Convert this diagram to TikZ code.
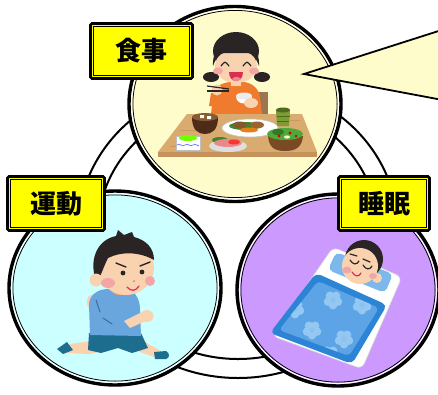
\documentclass[tikz,border=0pt]{standalone}
\usepackage{fontspec}
\newfontfamily\jp{Noto Sans CJK JP}
\usetikzlibrary{shapes.geometric,calc}

\definecolor{mealfill}{HTML}{FFFCCC}
\definecolor{movefill}{HTML}{CCFFFF}
\definecolor{sleepfill}{HTML}{CC99FF}
\definecolor{labelyellow}{HTML}{FFFF00}
\definecolor{skin}{HTML}{F9D2B0}
\definecolor{hair}{HTML}{2A2424}
\definecolor{cheek}{HTML}{F4A6A6}
\definecolor{mouthred}{HTML}{D8304E}
\definecolor{shirtorange}{HTML}{F07A2E}
\definecolor{chair}{HTML}{9C7650}
\definecolor{tabletop}{HTML}{D9AB6E}
\definecolor{tablefront}{HTML}{C4925A}
\definecolor{bowl}{HTML}{4E2A18}
\definecolor{soup}{HTML}{8A5A30}
\definecolor{teagreen}{HTML}{7E9C34}
\definecolor{teadark}{HTML}{4E6A1C}
\definecolor{basket}{HTML}{7A4A24}
\definecolor{leaf}{HTML}{4FA83A}
\definecolor{fishpink}{HTML}{E88A8A}
\definecolor{shirtblue}{HTML}{6AA6DE}
\definecolor{shorts}{HTML}{1D6E8E}
\definecolor{collar}{HTML}{F2A45C}
\definecolor{pillow}{HTML}{7CB8EC}
\definecolor{blanketdark}{HTML}{2C84D4}
\definecolor{blanket}{HTML}{5CA4E6}
\definecolor{petal}{HTML}{94C8F2}

\tikzset{
  ringline/.style={draw=black, line width=2},
  themecircle/.style={ellipse, draw=black, line width=3.4, inner sep=0pt, outer sep=0pt},
  labelbox/.style={draw=black, line width=2.8, fill=labelyellow, rounded corners=1.5pt,
    inner sep=0pt, outer sep=0pt, font=\jp\bfseries\fontsize{26pt}{26pt}\selectfont},
  innerframe/.style={draw=black, line width=0.9},
  facestroke/.style={line width=1.2, line cap=round},
}

% white rim and thin black rim just inside a theme circle
\newcommand\innerrims[3]{%
  \draw[white, line width=1.2] (#1.center) ellipse [x radius=#2-2.7, y radius=#3-2.7];
  \draw[black, line width=0.8] (#1.center) ellipse [x radius=#2-3.9, y radius=#3-3.9];
}
% five-petal blanket flower
\newcommand\blanketflower[2]{%
  \foreach \a in {90,162,234,306,18} {\fill[petal] ($(#1,#2)+(\a:5.2)$) circle (4.3);}
  \fill[petal!80!blanket] (#1,#2) circle (2.6);
}

\begin{document}
\begin{tikzpicture}[x=1pt,y=-1pt]
\useasboundingbox (0,0) rectangle (438,394);
\clip (0,0) rectangle (438,394);
\fill[white] (0,0) rectangle (438,394);

% background double ring
\draw[ringline] (238,230) ellipse [x radius=160, y radius=148];
\draw[ringline] (238,230) ellipse [x radius=140, y radius=129];

% the three theme circles
\node[themecircle, fill=mealfill, minimum width=212pt, minimum height=195pt] (meal) at (235,104) {};
\innerrims{meal}{106}{97.5}
\node[themecircle, fill=movefill, minimum width=212pt, minimum height=194pt] (move) at (115,288) {};
\innerrims{move}{106}{97}
\node[themecircle, fill=sleepfill, minimum width=202pt, minimum height=192pt] (sleep) at (338,290) {};
\innerrims{sleep}{101}{96}

% ---------- girl at the dinner table ----------
\fill[chair] (256,92) rectangle (268,114);
\fill[hair] (211,77) ellipse [x radius=8, y radius=5];
\fill[hair] (262,77) ellipse [x radius=8, y radius=5];
\fill[shirtorange] (211,114) -- (213,96) .. controls (214,86) and (222,83) .. (230,82)
  -- (244,82) .. controls (252,83) and (259,88) .. (260,98) -- (262,114) -- cycle;
\fill[skin] (231,80) rectangle (241,86);
\fill[hair] (236,51) ellipse [x radius=23, y radius=19];
\fill[skin] (236,66) ellipse [x radius=21, y radius=17];
\fill[hair] (213,66) .. controls (211,31) and (261,31) .. (259,66)
  .. controls (256,58) and (253,54) .. (248,53) -- (224,53)
  .. controls (219,54) and (216,58) .. (213,66) -- cycle;
\draw[hair, facestroke] (221,66) .. controls (225,61) .. (229,66);
\draw[hair, facestroke] (243,66) .. controls (247,61) .. (251,66);
\fill[cheek] (218,71) ellipse [x radius=5, y radius=3.5];
\fill[cheek] (254,71) ellipse [x radius=5, y radius=3.5];
\fill[mouthred] (229,72) .. controls (229,84) and (243,84) .. (243,72) -- cycle;
\fill[fishpink] (232,79) .. controls (235,76) and (238,76) .. (241,79)
  .. controls (238,82) and (234,82) .. (232,79) -- cycle;
% left arm with chopsticks
\fill[shirtorange] (209,106) -- (211,93) -- (222,93) -- (225,107) -- cycle;
\fill[skin] (217,90) circle (5.5);
\draw[hair, line width=1.2] (207,86) -- (229,89);
\draw[hair, line width=1.2] (207,91) -- (229,91);
% rice bowl in the right hand
\fill[shirtorange] (250,92) -- (258,94) -- (259,108) -- (250,108) -- cycle;
\fill[white] (236,96) .. controls (236,106) and (252,106) .. (252,96) -- cycle;
\fill[gray!15] (244,96) ellipse [x radius=8, y radius=3.5];
\fill[skin] (251,103) ellipse [x radius=7, y radius=5];
% table
\fill[tabletop] (187,114) -- (302,114) -- (317,152) -- (158,152) -- cycle;
\fill[tablefront] (158,152) rectangle (317,157);
\draw[tablefront!70!tabletop, line width=0.6] (180,130) -- (198,130) (290,120) -- (300,120) (170,146) -- (185,146);
% miso soup
\fill[bowl] (192,117) .. controls (192,130) and (198,134) .. (205,134)
  .. controls (212,134) and (218,130) .. (218,117) -- cycle;
\fill[soup] (205,117) ellipse [x radius=13, y radius=4];
\fill[white] (200,115) rectangle (204,118) (207,116) rectangle (211,119);
% green tea
\fill[teagreen] (276,110) -- (290,110) -- (289,126) -- (277,126) -- cycle;
\fill[teadark] (283,110) ellipse [x radius=7, y radius=2.5];
\draw[teadark, line width=0.7] (276.5,116) -- (289.6,116) (277,121) -- (289.2,121);
% main dish
\fill[white] (250,128) ellipse [x radius=28, y radius=9];
\draw[gray!45, line width=0.6] (250,128) ellipse [x radius=28, y radius=9];
\fill[leaf!80!black] (245,126) ellipse [x radius=16, y radius=4];
\fill[brown!70!black] (240,125) ellipse [x radius=7, y radius=3.5];
\fill[brown!80!black] (257,125) ellipse [x radius=7, y radius=3.5];
\fill[orange!60!brown] (249,130) ellipse [x radius=9, y radius=2.5];
% salad bowl
\fill[basket] (268,136) -- (303,136) .. controls (302,147) and (296,151) .. (285,151)
  .. controls (274,151) and (269,147) .. (268,136) -- cycle;
\fill[leaf] (285,134) ellipse [x radius=18, y radius=6];
\fill[leaf!70!black] (278,132) ellipse [x radius=6, y radius=3];
\fill[red!85!black] (279,136) circle (1.6) (290,133) circle (1.6) (296,136) circle (1.4);
\fill[white!80!yellow] (287,137) ellipse [x radius=3, y radius=1.6];
% small side dish
\fill[white] (176,136) rectangle (200,150);
\draw[gray!50, line width=0.5] (176,136) rectangle (200,150);
\draw[blue!60, line width=0.6] (177,145) .. controls (180,142) and (182,148) .. (185,145)
  .. controls (188,142) and (190,148) .. (193,145) .. controls (196,142) and (198,148) .. (199,145);
\fill[green!55!yellow] (188,138) ellipse [x radius=9, y radius=3];
% sashimi
\fill[gray!25] (228,146) ellipse [x radius=19, y radius=6];
\fill[leaf!80!black] (220,140) ellipse [x radius=8, y radius=3];
\fill[fishpink] (228,143) ellipse [x radius=14, y radius=4];
\fill[red!60!fishpink] (234,142) ellipse [x radius=6, y radius=2.5];

% ---------- boy running ----------
\fill[skin] (91,302) ellipse [x radius=4, y radius=7];
\fill[skin] (98,340) -- (70,344) -- (65,353) -- (90,354) -- (105,350) -- cycle;
\fill[shorts] (57,349) -- (67,342) -- (73,350) -- (63,354) -- cycle;
\fill[skin] (127,345) -- (145,342) -- (161,351) -- (157,358) -- (140,352) -- cycle;
\fill[shorts] (154,352) -- (166,351) .. controls (170,353) and (170,358) .. (166,359) -- (155,359) -- cycle;
\fill[shorts] (89,333) -- (141,333) -- (148,348) -- (132,353) -- (118,348) -- (101,353) -- (88,350) -- cycle;
\fill[shirtblue] (90,335) -- (89,305) .. controls (89,295) and (98,289) .. (108,289)
  -- (128,289) .. controls (136,292) and (140,300) .. (140,310) -- (141,336) -- cycle;
\draw[shirtblue!60!black, line width=0.9, line cap=round] (96,300) -- (100,312) (103,318) -- (112,324);
\fill[skin] (124,321) -- (144,311) -- (150,319) -- (130,328) -- cycle;
\fill[skin] (147,316) ellipse [x radius=6.5, y radius=6];
\fill[collar] (110,289) .. controls (114,297) and (124,297) .. (128,289) -- cycle;
\fill[skin] (126,268) ellipse [x radius=28, y radius=27];
\fill[hair] (97,283) .. controls (88,262) and (96,240) .. (116,236)
  -- (118,230) -- (124,235) -- (132,232) -- (134,237)
  .. controls (146,240) and (154,248) .. (154,260)
  .. controls (140,252) and (122,251) .. (108,258)
  .. controls (104,266) and (101,275) .. (97,283) -- cycle;
\fill[skin] (96,280) circle (6.5);
\draw[hair, line width=1.4, line cap=round] (116,263) -- (126,267);
\draw[hair, line width=1.4, line cap=round] (150,262) -- (140,266);
\fill[hair] (123,273) circle (2.4);
\fill[hair] (142,272) circle (2.4);
\fill[cheek] (108,283) ellipse [x radius=7, y radius=5];
\fill[cheek] (150,281) ellipse [x radius=5, y radius=5];
\fill[mouthred!70] (134,281) circle (1);
\draw[mouthred, facestroke] (127,287) .. controls (131,292) and (136,291) .. (139,286);

% ---------- boy asleep under the futon ----------
\fill[white] [rounded corners=6] (333,247) -- (402,277) -- (362,369) -- (272,336) -- cycle;
\draw[gray!35, line width=0.6] [rounded corners=6] (333,247) -- (402,277) -- (362,369) -- (272,336) -- cycle;
\fill[pillow] [rounded corners=5] (336,252) -- (393,274) -- (385,293) -- (328,270) -- cycle;
\fill[hair] (364,259) circle (19);
\fill[skin] (360,266) circle (18);
\fill[skin] (377,278) circle (5);
\draw[hair, facestroke] (350,254) -- (357,256);
\draw[hair, facestroke] (363,259) -- (370,262);
\draw[hair, facestroke] (350,260) .. controls (353,265) and (357,265) .. (359,261);
\draw[hair, facestroke] (363,265) .. controls (366,270) and (370,270) .. (372,266);
\fill[cheek] (347,270) ellipse [x radius=4.5, y radius=3.5];
\fill[cheek] (373,276) ellipse [x radius=4, y radius=3];
\draw[mouthred, facestroke] (352,272) .. controls (355,277) and (359,277) .. (361,273);
\fill[blanketdark] [rounded corners=5] (316,273) -- (387,305) -- (352,364) -- (270,333) -- cycle;
\begin{scope}
  \clip [rounded corners=4] (318,281) -- (379,308) -- (349,356) -- (279,330) -- cycle;
  \fill[blanket] (270,270) rectangle (390,365);
  \blanketflower{333}{300}
  \blanketflower{312}{330}
  \blanketflower{295}{309}
  \blanketflower{344}{339}
  \blanketflower{362}{305}
  \blanketflower{330}{355}
\end{scope}

% speech bubble pointer
\coordinate (tip) at (304,74);
\filldraw[fill=mealfill, draw=black, line width=1.8, line join=miter] (448,28) -- (tip) -- (448,101);

% theme labels
\node[labelbox, minimum width=102pt, minimum height=55pt] (lblmeal) at (141.5,51) {食事};
\node[labelbox, minimum width=97pt, minimum height=54pt] (lblmove) at (56,203.5) {運動};
\node[labelbox, minimum width=91pt, minimum height=54pt] (lblsleep) at (384,203.5) {睡眠};
\foreach \n in {lblmeal,lblmove,lblsleep}
  \draw[innerframe] ($(\n.south west)+(3.4,-3.4)$) rectangle ($(\n.north east)+(-3.4,3.4)$);
\end{tikzpicture}
\end{document}
